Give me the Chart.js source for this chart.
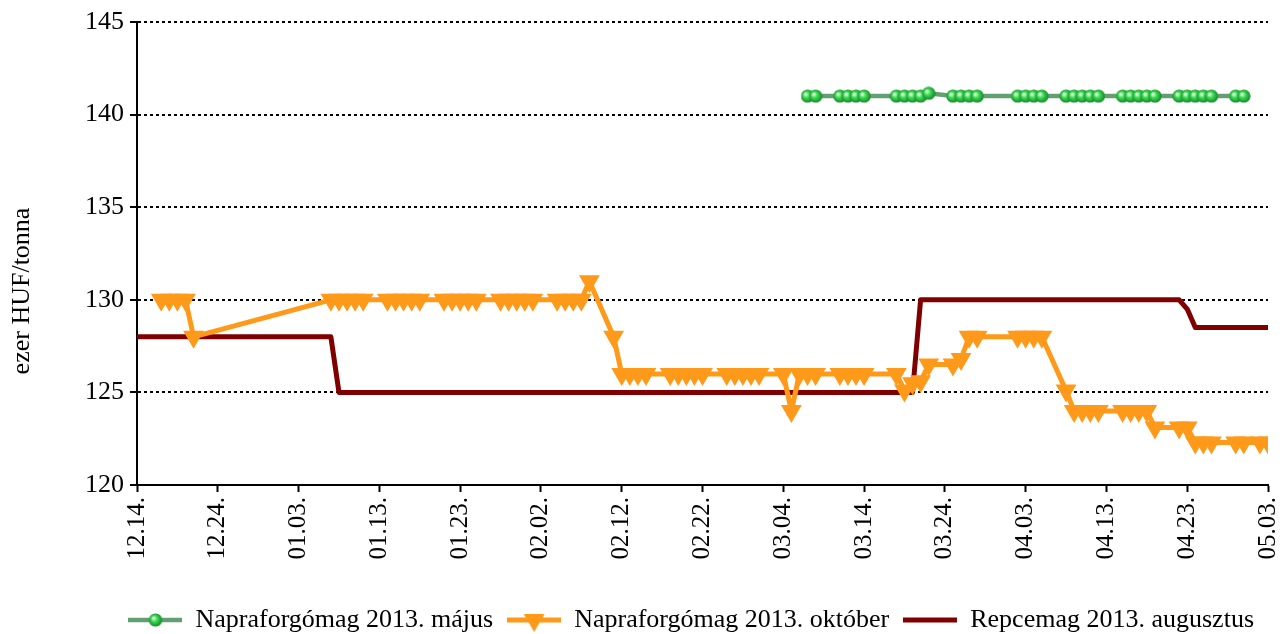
<!DOCTYPE html>
<html><head><meta charset="utf-8">
<script src="https://cdn.jsdelivr.net/npm/chart.js@4.4.1/dist/chart.umd.min.js"></script>
<style>html,body{margin:0;padding:0;background:#fff;} canvas{display:block;}</style>
</head><body>
<canvas id="chart" width="1283" height="634"></canvas>
<script>
// ---- data ----
const tickLabels = ['12.14.','12.24.','01.03.','01.13.','01.23.','02.02.','02.12.','02.22.','03.04.','03.14.','03.24.','04.03.','04.13.','04.23.','05.03.'];
const seriesNames = ['Napraforgómag 2013. május','Napraforgómag 2013. október','Repcemag 2013. augusztus'];
const yTitle = 'ezer HUF/tonna';
const days = [
 '12.14.',
 '12.17.','12.18.','12.19.','12.20.','12.21.',
 '12.24.','12.25.','12.26.','12.27.','12.28.',
 '12.31.','01.01.','01.02.','01.03.','01.04.',
 '01.07.','01.08.','01.09.','01.10.','01.11.',
 '01.14.','01.15.','01.16.','01.17.','01.18.',
 '01.21.','01.22.','01.23.','01.24.','01.25.',
 '01.28.','01.29.','01.30.','01.31.','02.01.',
 '02.04.','02.05.','02.06.','02.07.','02.08.',
 '02.11.','02.12.','02.13.','02.14.','02.15.',
 '02.18.','02.19.','02.20.','02.21.','02.22.',
 '02.25.','02.26.','02.27.','02.28.','03.01.',
 '03.04.','03.05.','03.06.','03.07.','03.08.',
 '03.11.','03.12.','03.13.','03.14.','03.15.',
 '03.18.','03.19.','03.20.','03.21.','03.22.',
 '03.25.','03.26.','03.27.','03.28.','03.29.',
 '04.01.','04.02.','04.03.','04.04.','04.05.',
 '04.08.','04.09.','04.10.','04.11.','04.12.',
 '04.15.','04.16.','04.17.','04.18.','04.19.',
 '04.22.','04.23.','04.24.','04.25.','04.26.',
 '04.29.','04.30.','05.01.','05.02.','05.03.'
];
const sunflowerMay = [
 null,
 null,null,null,null,null,
 null,null,null,null,null,
 null,null,null,null,null,
 null,null,null,null,null,
 null,null,null,null,null,
 null,null,null,null,null,
 null,null,null,null,null,
 null,null,null,null,null,
 null,null,null,null,null,
 null,null,null,null,null,
 null,null,null,null,null,
 null,null,null,141,141,
 141,141,141,141,null,
 141,141,141,141,141.15,
 141,141,141,141,null,
 null,141,141,141,141,
 141,141,141,141,141,
 141,141,141,141,141,
 141,141,141,141,141,
 141,141,null,null,null
];
const sunflowerOct = [
 null,
 130,130,130,130,128,
 null,null,null,null,null,
 null,null,null,null,null,
 130,130,130,130,130,
 130,130,130,130,130,
 130,130,130,130,130,
 130,130,130,130,130,
 130,130,130,130,131,
 128,126,126,126,126,
 126,126,126,126,126,
 126,126,126,126,126,
 126,124,126,126,126,
 126,126,126,126,null,
 126,125.1,125.5,125.6,126.5,
 126.5,126.8,128,128,null,
 null,128,128,128,128,
 125.1,124,124,124,124,
 124,124,124,124,123.1,
 123.1,123.1,122.3,122.3,122.3,
 122.3,122.3,null,122.3,122.3
];
const rapeAug = [
 128,
 128,128,128,128,128,
 null,null,null,128,128,
 128,null,128,128,128,
 128,125,125,125,125,
 125,125,125,125,125,
 125,125,125,125,125,
 125,125,125,125,125,
 125,125,125,125,125,
 125,125,125,125,125,
 125,125,125,125,125,
 125,125,125,125,125,
 125,125,125,125,125,
 125,125,125,125,null,
 125,125,125,130,130,
 130,130,130,130,null,
 null,130,130,130,130,
 130,130,130,130,130,
 130,130,130,130,130,
 130,129.5,128.5,128.5,128.5,
 128.5,128.5,null,128.5,128.5
];

// ---- helpers ----
function dayOffset(s){
  const m = +s.slice(0,2), d = +s.slice(3,5);
  const y = m === 12 ? 2012 : 2013;
  return Math.round((Date.UTC(y,m-1,d) - Date.UTC(2012,11,14)) / 86400000);
}
function toXY(vals){
  const out = [];
  vals.forEach((v,i)=>{ if(v !== null) out.push({x: dayOffset(days[i]), y: v}); });
  return out;
}
const GREEN_LINE = '#629f72', ORANGE = '#FF9919', DARKRED = '#800000';
const FONT = "'Liberation Serif', 'Times New Roman', serif";

function makeBall(){
  const c = document.createElement('canvas'); c.width = 14; c.height = 14;
  const g = c.getContext('2d');
  const grad = g.createRadialGradient(5,5,0.5,7,7,7.5);
  grad.addColorStop(0,'#e6ffe6'); grad.addColorStop(0.35,'#3fdc55'); grad.addColorStop(1,'#0a7a1e');
  g.fillStyle = grad; g.beginPath(); g.arc(7,7,6.6,0,Math.PI*2); g.fill();
  return c;
}
const ball = makeBall();
function legendIcon(kind){
  const c = document.createElement('canvas'); c.width = 54; c.height = 26;
  const g = c.getContext('2d');
  const cy = 13;
  if(kind === 0){
    g.strokeStyle = GREEN_LINE; g.lineWidth = 4.5; g.beginPath(); g.moveTo(0,cy); g.lineTo(54,cy); g.stroke();
    g.drawImage(ball, 27-7, cy-7);
  } else if(kind === 1){
    g.strokeStyle = ORANGE; g.lineWidth = 5; g.beginPath(); g.moveTo(0,cy); g.lineTo(54,cy); g.stroke();
    const r = 12; g.fillStyle = ORANGE; g.beginPath();
    g.moveTo(27, cy + r); g.lineTo(27 - r*0.866, cy - r/2); g.lineTo(27 + r*0.866, cy - r/2); g.closePath(); g.fill();
  } else {
    g.strokeStyle = DARKRED; g.lineWidth = 5; g.beginPath(); g.moveTo(0,cy); g.lineTo(54,cy); g.stroke();
  }
  return c;
}
const legendIcons = [legendIcon(0), legendIcon(1), legendIcon(2)];

Chart.defaults.font.family = FONT;
Chart.defaults.font.size = 26;
Chart.defaults.color = '#000';

const yTitlePlugin = {
  id: 'yTitle',
  afterDraw(chart){
    const c = chart.ctx;
    c.save();
    c.translate(22, 291);
    c.rotate(-Math.PI/2);
    c.font = "26px " + FONT;
    c.fillStyle = '#000'; c.textAlign = 'center'; c.textBaseline = 'middle';
    c.fillText(yTitle, 0, 0);
    c.restore();
  }
};

new Chart(document.getElementById('chart'), {
  type: 'line',
  data: {
    datasets: [
      { label: seriesNames[0], data: toXY(sunflowerMay), borderColor: GREEN_LINE, borderWidth: 4.5,
        pointStyle: ball, pointRadius: 7, tension: 0, fill: false },
      { label: seriesNames[1], data: toXY(sunflowerOct), borderColor: ORANGE, backgroundColor: ORANGE, borderWidth: 5,
        pointStyle: 'triangle', pointRotation: 180, pointRadius: 12, pointBackgroundColor: ORANGE,
        pointBorderColor: ORANGE, pointBorderWidth: 0, tension: 0, fill: false, borderJoinStyle: 'round' },
      { label: seriesNames[2], data: toXY(rapeAug), borderColor: DARKRED, borderWidth: 5,
        pointRadius: 0, tension: 0, fill: false, borderJoinStyle: 'round' }
    ]
  },
  options: {
    responsive: false,
    animation: false,
    layout: { padding: { left: 0, right: 15, top: 22, bottom: -9 } },
    plugins: {
      tooltip: { enabled: false },
      legend: {
        position: 'bottom', align: 'end',
        labels: {
          usePointStyle: true, pointStyleWidth: 54, padding: 14,
          font: { size: 26 }, color: '#000',
          generateLabels: () => seriesNames.map((t,i)=>({ text: t, pointStyle: legendIcons[i], fillStyle: '#000',
            strokeStyle: '#000', lineWidth: 0, hidden: false, datasetIndex: i, fontColor: '#000' }))
        }
      }
    },
    scales: {
      x: {
        type: 'linear', min: 0, max: 140,
        ticks: { stepSize: 10, autoSkip: false, maxRotation: 90, minRotation: 90, padding: 5, color: '#000',
          font: { size: 25 },
          callback: v => tickLabels[Math.round(v/10)] ?? '' },
        grid: { drawOnChartArea: false, drawTicks: true, tickLength: 7, tickWidth: 2, tickColor: '#000' },
        border: { display: true, color: '#000', width: 2 },
        afterFit: s => { s.height = 108; s.paddingLeft = 0; s.paddingRight = 0; }
      },
      y: {
        min: 120, max: 145,
        ticks: { stepSize: 5, padding: 6, color: '#000', font: { size: 26 } },
        grid: { color: '#000', lineWidth: 2, drawTicks: true, tickLength: 7, tickWidth: 2, tickColor: '#000' },
        border: { display: true, color: '#000', width: 2, dash: [3,3] },
        afterFit: s => { s.width = 137; }
      }
    }
  },
  plugins: [yTitlePlugin]
});
</script>
</body></html>
